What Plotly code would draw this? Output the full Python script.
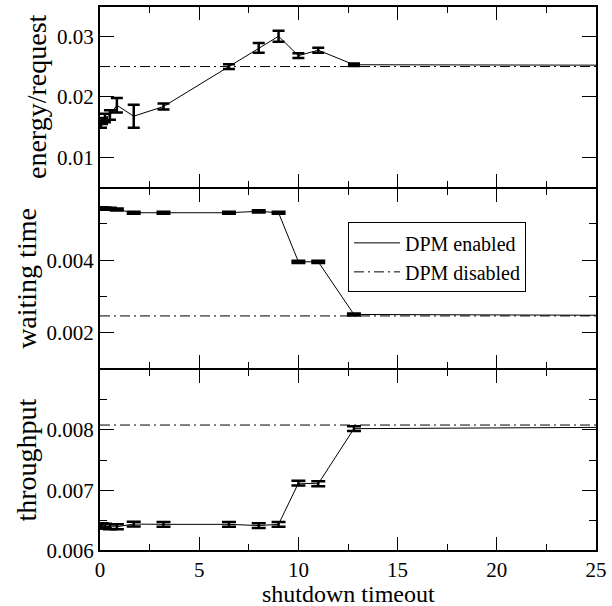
import plotly.graph_objects as go
from plotly.subplots import make_subplots

# Shutdown timeout settings (last point lies past the visible axis range)
timeout = [0.05, 0.1, 0.25, 0.5, 0.85, 1.7, 3.2, 6.5, 8.0, 9.0, 10.0, 11.0, 12.8, 30.0]

# DPM enabled: mean and half-width of confidence interval
energy = [0.0155, 0.0160, 0.0165, 0.0170, 0.0186, 0.0168, 0.0184, 0.0250, 0.0281,
          0.0300, 0.0268, 0.0277, 0.0253, 0.0252]
energy_err = [0.0006, 0.0005, 0.0007, 0.0008, 0.0012, 0.0019, 0.0005, 0.0004, 0.0008,
              0.0009, 0.0004, 0.0004, 0.0002, 0.0002]

waiting = [0.00543, 0.00543, 0.00542, 0.00542, 0.00540, 0.00531, 0.00531, 0.00531,
           0.00535, 0.00531, 0.00396, 0.00396, 0.00251, 0.00248]
waiting_err = [0.00003] * 14

throughput = [0.00642, 0.00641, 0.00641, 0.00640, 0.00640, 0.006445, 0.00644, 0.00644,
              0.00642, 0.00644, 0.00712, 0.00711, 0.00802, 0.00805]
throughput_err = [0.00004] * 14

# DPM disabled reference levels
energy_off = 0.0250
waiting_off = 0.00247
throughput_off = 0.00808

# Axis ranges and ticks
x_range = [0, 25]
x_major = [0, 5, 10, 15, 20, 25]
x_minor = [2.5, 7.5, 12.5, 17.5, 22.5]
energy_range = [0.005, 0.035]
energy_ticks = [0.01, 0.02, 0.03]
energy_ticktext = ["0.01", "0.02", "0.03"]
waiting_range = [0.001, 0.006]
waiting_ticks = [0.002, 0.004]
waiting_ticktext = ["0.002", "0.004"]
waiting_minor = [0.003, 0.005]
throughput_range = [0.006, 0.009]
throughput_ticks = [0.006, 0.007, 0.008]
throughput_ticktext = ["0.006", "0.007", "0.008"]
throughput_minor = [0.0065, 0.0075, 0.0085]

FONT = "'Liberation Serif', 'Times New Roman', Times, serif"
TICK_SIZE = 21

fig = make_subplots(rows=3, cols=1, shared_xaxes=True, vertical_spacing=0.0)

panels = [
    (energy, energy_err, energy_off, 6),
    (waiting, waiting_err, waiting_off, 7),
    (throughput, throughput_err, throughput_off, 7),
]
off_x = [0, max(timeout)]
for i, (vals, errs, off, capw) in enumerate(panels, start=1):
    fig.add_trace(go.Scatter(
        x=timeout, y=vals, mode="lines", name="DPM enabled",
        line=dict(color="black", width=1),
        error_y=dict(type="data", array=errs, visible=True, color="black",
                     thickness=2.5, width=capw),
        showlegend=(i == 2),
    ), row=i, col=1)
    fig.add_trace(go.Scatter(
        x=off_x, y=[off, off], mode="lines", name="DPM disabled",
        line=dict(color="black", width=1, dash="10px,4px,2px,4px"),
        showlegend=(i == 2),
    ), row=i, col=1)

tick_style = dict(
    mirror="ticks", ticks="inside", ticklen=14, tickwidth=1, tickcolor="black",
    showgrid=False, zeroline=False, showline=True, linecolor="black",
    tickfont=dict(family=FONT, size=TICK_SIZE, color="black"),
)

# Horizontal frame lines are 1px per panel so that shared panel edges add up to 2px
for i in (1, 2, 3):
    fig.update_xaxes(
        range=x_range, tickvals=x_major, ticktext=[str(v) for v in x_major],
        showticklabels=(i == 3), linewidth=1,
        minor=dict(tickvals=x_minor, ticks="inside", ticklen=7, tickcolor="black",
                   tickwidth=1),
        **tick_style, row=i, col=1)

# x-axis title placed just under the tick labels
fig.add_annotation(
    text="shutdown timeout", xref="paper", yref="paper", x=0.5, y=0,
    xanchor="center", yanchor="top", yshift=-28, showarrow=False,
    font=dict(family=FONT, size=24, color="black"),
)

ytitle_font = dict(family=FONT, size=28, color="black")
fig.update_yaxes(range=energy_range, tickvals=energy_ticks, ticktext=energy_ticktext,
                 linewidth=2,
                 title=dict(text="energy/request", standoff=2, font=ytitle_font),
                 **tick_style, row=1, col=1)
fig.update_yaxes(range=waiting_range, tickvals=waiting_ticks, ticktext=waiting_ticktext,
                 linewidth=2,
                 minor=dict(tickvals=waiting_minor, ticks="inside", ticklen=7,
                            tickcolor="black", tickwidth=1),
                 title=dict(text="waiting time", standoff=2, font=ytitle_font),
                 **tick_style, row=2, col=1)
fig.update_yaxes(range=throughput_range, tickvals=throughput_ticks,
                 ticktext=throughput_ticktext, linewidth=2,
                 minor=dict(tickvals=throughput_minor, ticks="inside", ticklen=7,
                            tickcolor="black", tickwidth=1),
                 title=dict(text="throughput", standoff=2, font=ytitle_font),
                 **tick_style, row=3, col=1)

# Outer top and bottom edges thickened to match the side frame
for yp in (0, 1):
    fig.add_shape(type="line", xref="paper", yref="paper", x0=0, x1=1, y0=yp, y1=yp,
                  line=dict(color="black", width=2))

fig.update_layout(
    width=612, height=606,
    margin=dict(l=100, r=12, t=5, b=55),
    paper_bgcolor="white", plot_bgcolor="white",
    font=dict(family=FONT, size=TICK_SIZE, color="black"),
    legend=dict(
        x=0.5, y=0.603, xanchor="left", yanchor="top",
        bgcolor="white", bordercolor="black", borderwidth=1,
        font=dict(family=FONT, size=20, color="black"),
        tracegroupgap=0, itemwidth=46,
    ),
)

fig.write_html("out.html")
